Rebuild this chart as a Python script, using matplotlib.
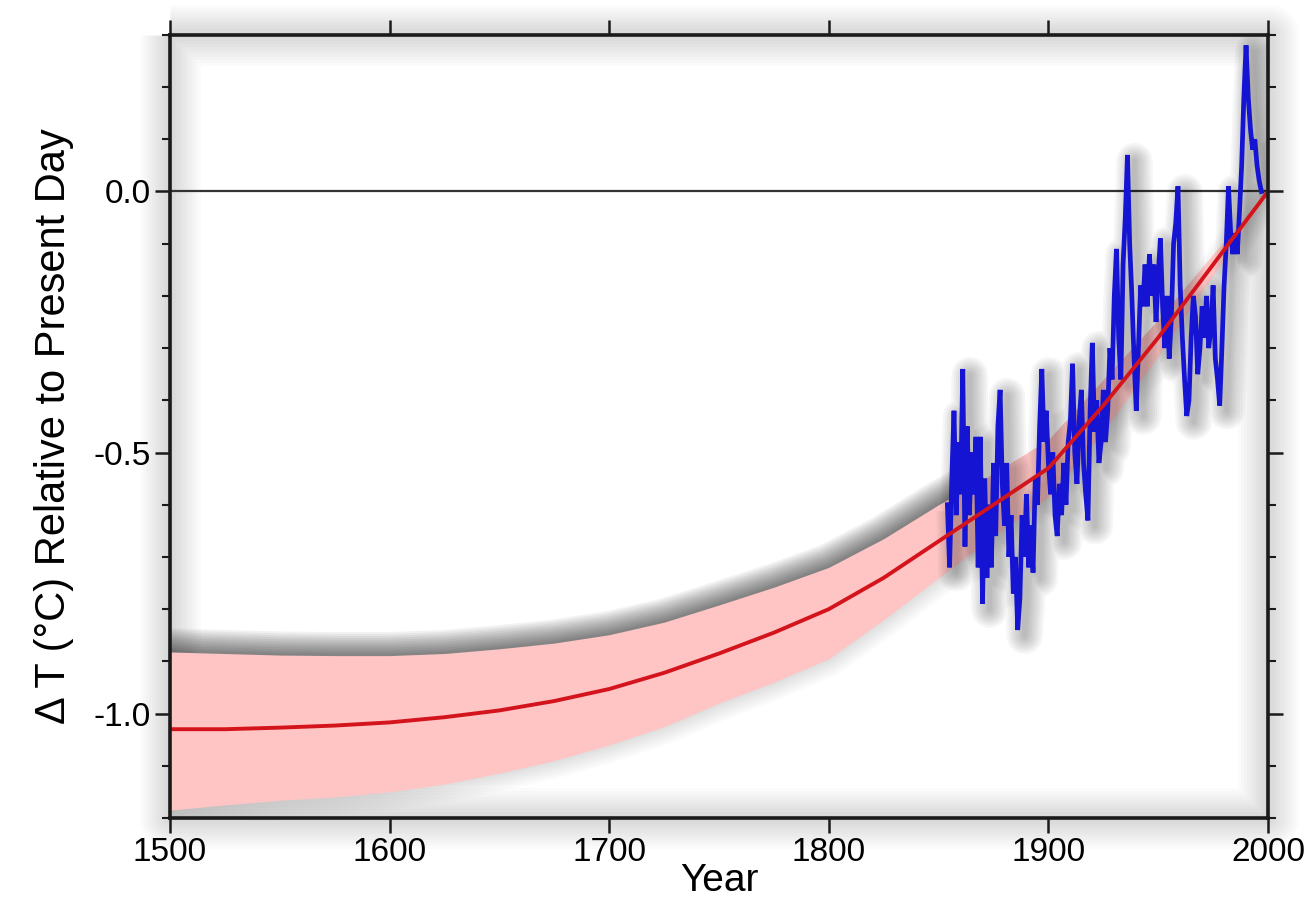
import numpy as np
import matplotlib
matplotlib.use("Agg")
import matplotlib.pyplot as plt
from matplotlib.ticker import MultipleLocator
from matplotlib import transforms
from matplotlib.patches import Rectangle

# Smoothed long-term reconstruction (red) and its uncertainty envelope (pink)
recon_years = [1500, 1525, 1550, 1575, 1600, 1625, 1650, 1675, 1700, 1725,
               1750, 1775, 1800, 1825, 1850, 1875, 1900, 1925, 1950, 1975, 2000]
recon_mean = [-1.03, -1.03, -1.027, -1.023, -1.017, -1.007, -0.994, -0.976,
              -0.953, -0.922, -0.885, -0.845, -0.80, -0.74, -0.67, -0.60,
              -0.53, -0.41, -0.28, -0.14, 0.0]
recon_upper = [-0.882, -0.885, -0.888, -0.889, -0.889, -0.885, -0.876, -0.865,
               -0.849, -0.825, -0.792, -0.758, -0.72, -0.665, -0.60, -0.54,
               -0.475, -0.36, -0.245, -0.12, 0.0]
recon_lower = [-1.185, -1.175, -1.166, -1.16, -1.15, -1.135, -1.114, -1.09,
               -1.06, -1.025, -0.98, -0.94, -0.895, -0.82, -0.74, -0.66,
               -0.585, -0.46, -0.315, -0.16, 0.0]

# Annual instrumental record (blue), 1854-1997
obs_start = 1854
obs_values = [
    -0.60, -0.72, -0.55, -0.42, -0.62, -0.48, -0.58, -0.34, -0.68, -0.45,   # 1854-1863
    -0.62, -0.50, -0.58, -0.47, -0.72, -0.47, -0.79, -0.55, -0.74, -0.60,   # 1864-1873
    -0.72, -0.52, -0.66, -0.45, -0.38, -0.56, -0.64, -0.52, -0.70, -0.62,   # 1874-1883
    -0.77, -0.70, -0.84, -0.78, -0.62, -0.70, -0.58, -0.72, -0.64, -0.73,   # 1884-1893
    -0.55, -0.60, -0.45, -0.34, -0.48, -0.42, -0.52, -0.58, -0.50, -0.62,   # 1894-1903
    -0.66, -0.56, -0.62, -0.52, -0.60, -0.48, -0.44, -0.33, -0.50, -0.56,   # 1904-1913
    -0.44, -0.38, -0.52, -0.58, -0.63, -0.42, -0.29, -0.46, -0.40, -0.52,   # 1914-1923
    -0.48, -0.38, -0.48, -0.42, -0.30, -0.36, -0.20, -0.11, -0.28, -0.36,   # 1924-1933
    -0.14, -0.05, 0.07, -0.10, -0.20, -0.32, -0.42, -0.30, -0.18, -0.22,    # 1934-1943
    -0.14, -0.22, -0.12, -0.20, -0.14, -0.25, -0.16, -0.09, -0.22, -0.30,   # 1944-1953
    -0.20, -0.32, -0.24, -0.10, -0.06, 0.01, -0.18, -0.28, -0.36, -0.43,    # 1954-1963
    -0.40, -0.28, -0.20, -0.24, -0.35, -0.30, -0.22, -0.28, -0.20, -0.30,   # 1964-1973
    -0.26, -0.18, -0.32, -0.36, -0.41, -0.30, -0.18, -0.10, 0.01, -0.08,    # 1974-1983
    -0.12, -0.08, -0.12, -0.04, 0.05, 0.18, 0.28, 0.18, 0.12, 0.08,         # 1984-1993
    0.10, 0.05, 0.02, 0.00,                                                 # 1994-1997
]
obs_years = np.arange(obs_start, obs_start + len(obs_values))

x_ticks = [1500, 1600, 1700, 1800, 1900, 2000]
y_ticks = [0.0, -0.5, -1.0]
y_tick_labels = ["0.0", "-0.5", "-1.0"]

FONT = ["Liberation Sans", "DejaVu Sans"]
plt.rcParams["font.family"] = FONT

fig = plt.figure(figsize=(13.14, 9.17), dpi=100)
ax = fig.add_axes([0.1294, 0.108, 0.8356, 0.854])
ax.set_xlim(1500, 2000)
ax.set_ylim(-1.2, 0.3)


def soft_glow(ax, x, y, width, steps, alpha, color="black", zorder=1,
              transform=None, clip=True, clip_patch=None):
    """Stack of widening translucent strokes giving a soft shadow."""
    tr = transform if transform is not None else ax.transData
    for i in range(steps):
        lw = width * (i + 1) / steps
        line, = ax.plot(x, y, color=color, lw=lw, alpha=alpha,
                        solid_capstyle="butt", zorder=zorder, transform=tr,
                        clip_on=clip)
        if clip_patch is not None:
            line.set_clip_path(clip_patch)


# soft shading along the frame
frame_x = [0, 1, 1, 0, 0]
frame_y = [1, 1, 0, 0, 1]
soft_glow(ax, frame_x, frame_y, 44, 10, 0.016, transform=ax.transAxes,
          zorder=0.5, clip=False)

# darker shading along the upper edge of the envelope, stopping where the
# instrumental record begins
pre_window = Rectangle((1500, -1.2), obs_start + 1 - 1500, 1.5,
                       transform=ax.transData, visible=False)
ax.add_patch(pre_window)
soft_glow(ax, recon_years, recon_upper, 34, 12, 0.05, zorder=1,
          clip_patch=pre_window)
# faint shading along its lower edge
soft_glow(ax, recon_years, recon_lower, 26, 8, 0.015, zorder=1)

# uncertainty envelope
ax.fill_between(recon_years, recon_lower, recon_upper, color="#ffc4c4",
                lw=0, zorder=2)

# reference line at present-day level
ax.axhline(0.0, color="#333333", lw=1.6, zorder=3.2)

# shadow under the instrumental series, shifted down-right
shadow_tr = ax.transData + transforms.ScaledTranslation(7 / 100, -6 / 100,
                                                         fig.dpi_scale_trans)
soft_glow(ax, obs_years, obs_values, 26, 8, 0.035, transform=shadow_tr,
          zorder=3.4)
ax.plot(obs_years, obs_values, color="#1414d2", lw=3.4, zorder=4,
        solid_joinstyle="miter")

# smoothed curve on top
ax.plot(recon_years, recon_mean, color="#d4141c", lw=2.8, zorder=4.5)

# axes, ticks and labels
for side in ["left", "right", "top", "bottom"]:
    ax.spines[side].set_linewidth(2.6)
    ax.spines[side].set_color("#1a1a1a")
    ax.spines[side].set_zorder(5)

ax.set_xticks(x_ticks)
ax.set_xticklabels([str(v) for v in x_ticks])
ax.set_yticks(y_ticks)
ax.set_yticklabels(y_tick_labels)
ax.yaxis.set_minor_locator(MultipleLocator(0.1))

ax.tick_params(axis="both", which="major", direction="out", length=11,
               width=1.8, color="#1a1a1a", labelsize=24, pad=3)
ax.tick_params(axis="y", which="minor", direction="out", length=6,
               width=1.5, color="#1a1a1a")
ax.tick_params(axis="x", which="both", top=True, labeltop=False)
ax.tick_params(axis="y", which="both", right=True, labelright=False)

ax.set_xlabel("Year", fontsize=28, labelpad=-4)
ax.set_ylabel("\u0394 T (\u00b0C) Relative to Present Day", fontsize=30,
              labelpad=14)

fig.savefig("out.png", dpi=100, facecolor="white")
